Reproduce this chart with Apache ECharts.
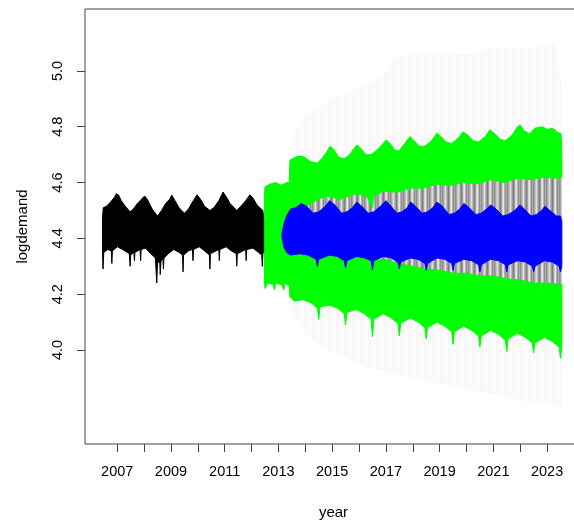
<!DOCTYPE html>
<html>
<head>
<meta charset="utf-8">
<script src="https://cdn.jsdelivr.net/npm/echarts@6/dist/echarts.min.js"></script>
<style>
html,body{margin:0;padding:0;background:#fff;}
#chart{width:574px;height:521px;}
</style>
</head>
<body>
<div id="chart"></div>
<script>
// ---- tick labels ----
const xTicks = [2007,2008,2009,2010,2011,2012,2013,2014,2015,2016,2017,2018,2019,2020,2021,2022,2023];
const xLabels = [2007,2009,2011,2013,2015,2017,2019,2021,2023];
const yTicks = [4.0,4.2,4.4,4.6,4.8,5.0];

// ---- observed series envelope (year, logdemand) ----
const blackUpper = [[2006.45,4.47],[2006.48,4.51],[2006.6,4.515],[2006.75,4.53],[2006.88,4.545],[2006.97,4.56],[2007.05,4.555],[2007.15,4.535],[2007.3,4.515],[2007.48,4.495],[2007.6,4.505],[2007.75,4.525],[2007.9,4.54],[2008.02,4.552],[2008.12,4.54],[2008.3,4.505],[2008.5,4.48],[2008.65,4.5],[2008.8,4.525],[2008.95,4.54],[2009.03,4.555],[2009.15,4.535],[2009.3,4.51],[2009.5,4.49],[2009.65,4.505],[2009.8,4.53],[2009.97,4.556],[2010.1,4.54],[2010.25,4.515],[2010.45,4.5],[2010.6,4.51],[2010.78,4.535],[2010.94,4.566],[2011.05,4.55],[2011.2,4.525],[2011.45,4.5],[2011.6,4.515],[2011.78,4.535],[2011.94,4.556],[2012.05,4.545],[2012.2,4.52],[2012.42,4.5],[2012.45,4.47]];
const blackLower = [[2006.45,4.36],[2006.47,4.29],[2006.5,4.35],[2006.65,4.36],[2006.78,4.355],[2006.8,4.31],[2006.82,4.355],[2007.0,4.37],[2007.2,4.36],[2007.45,4.345],[2007.48,4.3],[2007.5,4.34],[2007.62,4.35],[2007.64,4.32],[2007.66,4.35],[2007.85,4.36],[2007.87,4.32],[2007.89,4.36],[2008.05,4.365],[2008.25,4.345],[2008.42,4.33],[2008.47,4.24],[2008.5,4.31],[2008.58,4.32],[2008.6,4.27],[2008.63,4.32],[2008.7,4.325],[2008.72,4.29],[2008.74,4.33],[2008.9,4.345],[2009.1,4.36],[2009.3,4.35],[2009.43,4.34],[2009.45,4.28],[2009.47,4.34],[2009.65,4.355],[2009.8,4.36],[2009.82,4.32],[2009.84,4.36],[2010.05,4.37],[2010.25,4.355],[2010.43,4.34],[2010.45,4.29],[2010.47,4.345],[2010.78,4.36],[2010.8,4.32],[2010.82,4.36],[2011.05,4.37],[2011.25,4.355],[2011.43,4.345],[2011.45,4.3],[2011.47,4.345],[2011.78,4.36],[2011.8,4.32],[2011.82,4.36],[2012.05,4.365],[2012.25,4.35],[2012.38,4.34],[2012.4,4.3],[2012.42,4.345],[2012.45,4.35]];

// ---- forecast: upper 95% bound envelope ----
const greenUpperTop = [[2012.48,4.55],[2012.5,4.585],[2012.7,4.595],[2012.9,4.6],[2013.1,4.59],[2013.3,4.6],[2013.4,4.6],[2013.43,4.68],[2013.6,4.69],[2013.8,4.695],[2014.0,4.69],[2014.2,4.675],[2014.45,4.67],[2014.65,4.69],[2014.8,4.71],[2014.92,4.73],[2015.05,4.72],[2015.25,4.69],[2015.45,4.685],[2015.65,4.7],[2015.8,4.72],[2015.92,4.735],[2016.05,4.725],[2016.25,4.7],[2016.45,4.7],[2016.65,4.715],[2016.85,4.735],[2017.02,4.753],[2017.15,4.74],[2017.35,4.715],[2017.5,4.715],[2017.7,4.74],[2017.9,4.765],[2018.05,4.75],[2018.25,4.73],[2018.45,4.73],[2018.7,4.75],[2018.9,4.777],[2019.05,4.765],[2019.25,4.745],[2019.45,4.74],[2019.7,4.76],[2019.87,4.782],[2020.05,4.77],[2020.25,4.75],[2020.45,4.745],[2020.7,4.765],[2020.87,4.789],[2021.05,4.775],[2021.25,4.755],[2021.45,4.75],[2021.7,4.77],[2021.9,4.8],[2022.0,4.806],[2022.15,4.785],[2022.35,4.775],[2022.55,4.795],[2022.84,4.8],[2023.0,4.79],[2023.2,4.795],[2023.4,4.78],[2023.52,4.775],[2023.55,4.7]];
const greenUpperBottom = [[2012.48,4.4],[2013.4,4.4],[2013.43,4.5],[2014.0,4.51],[2014.3,4.53],[2014.6,4.545],[2014.9,4.55],[2015.3,4.54],[2015.6,4.55],[2015.9,4.56],[2016.3,4.55],[2016.5,4.51],[2016.55,4.55],[2016.9,4.57],[2017.4,4.565],[2017.9,4.58],[2018.4,4.58],[2018.9,4.595],[2019.4,4.59],[2019.9,4.6],[2020.4,4.595],[2020.9,4.61],[2021.4,4.6],[2021.9,4.615],[2022.4,4.61],[2022.9,4.62],[2023.3,4.615],[2023.55,4.62]];

// ---- forecast: lower 95% bound envelope ----
const greenLowerTop = [[2012.48,4.45],[2013.4,4.45],[2013.43,4.36],[2013.9,4.355],[2014.5,4.34],[2014.95,4.345],[2015.5,4.33],[2015.95,4.335],[2016.4,4.32],[2016.95,4.325],[2017.4,4.31],[2018.0,4.3],[2018.5,4.29],[2019.0,4.285],[2019.5,4.275],[2020.0,4.275],[2020.5,4.265],[2021.0,4.265],[2021.5,4.255],[2022.0,4.25],[2022.5,4.24],[2023.0,4.24],[2023.55,4.235]];
const greenLowerBottom = [[2012.48,4.25],[2012.5,4.22],[2012.6,4.24],[2012.8,4.235],[2012.85,4.215],[2012.9,4.24],[2013.1,4.235],[2013.2,4.215],[2013.25,4.24],[2013.4,4.23],[2013.43,4.19],[2013.6,4.175],[2013.9,4.18],[2014.2,4.17],[2014.45,4.15],[2014.5,4.11],[2014.55,4.155],[2014.9,4.16],[2015.2,4.15],[2015.45,4.13],[2015.5,4.09],[2015.55,4.135],[2015.9,4.145],[2016.2,4.13],[2016.45,4.11],[2016.5,4.047],[2016.55,4.11],[2016.9,4.13],[2017.2,4.115],[2017.45,4.095],[2017.5,4.05],[2017.55,4.095],[2017.9,4.115],[2018.2,4.1],[2018.45,4.08],[2018.5,4.04],[2018.55,4.08],[2018.9,4.1],[2019.2,4.085],[2019.45,4.065],[2019.5,4.02],[2019.55,4.065],[2019.9,4.085],[2020.2,4.07],[2020.45,4.05],[2020.5,4.01],[2020.55,4.05],[2020.9,4.07],[2021.2,4.055],[2021.45,4.035],[2021.5,3.995],[2021.55,4.04],[2021.9,4.06],[2022.2,4.045],[2022.45,4.025],[2022.5,3.99],[2022.55,4.025],[2022.9,4.045],[2023.2,4.03],[2023.45,4.01],[2023.5,3.97],[2023.55,4.01]];

// ---- forecast: point forecast envelope ----
const blueTop = [[2013.13,4.415],[2013.2,4.45],[2013.3,4.48],[2013.45,4.505],[2013.65,4.51],[2013.85,4.525],[2014.05,4.515],[2014.3,4.49],[2014.5,4.495],[2014.75,4.515],[2014.9,4.535],[2015.1,4.52],[2015.35,4.49],[2015.55,4.495],[2015.75,4.51],[2015.92,4.53],[2016.1,4.515],[2016.35,4.49],[2016.55,4.495],[2016.8,4.515],[2017.0,4.535],[2017.15,4.52],[2017.4,4.49],[2017.6,4.495],[2017.8,4.51],[2017.92,4.53],[2018.1,4.515],[2018.35,4.49],[2018.55,4.495],[2018.75,4.51],[2018.9,4.53],[2019.1,4.515],[2019.35,4.485],[2019.55,4.49],[2019.75,4.505],[2019.9,4.525],[2020.1,4.51],[2020.35,4.485],[2020.55,4.49],[2020.75,4.505],[2020.9,4.52],[2021.1,4.505],[2021.35,4.48],[2021.55,4.485],[2021.8,4.5],[2022.0,4.52],[2022.15,4.505],[2022.4,4.48],[2022.6,4.485],[2022.8,4.5],[2022.92,4.515],[2023.1,4.5],[2023.35,4.48],[2023.5,4.48],[2023.55,4.46]];
const blueBottom = [[2013.13,4.405],[2013.2,4.37],[2013.3,4.35],[2013.45,4.34],[2013.8,4.345],[2014.1,4.34],[2014.4,4.325],[2014.45,4.3],[2014.5,4.325],[2014.9,4.34],[2015.2,4.335],[2015.45,4.32],[2015.5,4.295],[2015.55,4.32],[2015.9,4.335],[2016.2,4.33],[2016.45,4.32],[2016.5,4.287],[2016.55,4.32],[2016.9,4.335],[2017.2,4.33],[2017.45,4.315],[2017.5,4.29],[2017.55,4.315],[2017.9,4.33],[2018.2,4.325],[2018.45,4.31],[2018.5,4.285],[2018.55,4.31],[2018.9,4.33],[2019.2,4.325],[2019.45,4.31],[2019.5,4.285],[2019.55,4.31],[2019.9,4.325],[2020.2,4.32],[2020.45,4.305],[2020.5,4.28],[2020.55,4.305],[2020.9,4.325],[2021.2,4.32],[2021.45,4.305],[2021.5,4.28],[2021.55,4.305],[2021.9,4.32],[2022.2,4.315],[2022.45,4.3],[2022.5,4.28],[2022.55,4.3],[2022.9,4.32],[2023.2,4.315],[2023.45,4.3],[2023.5,4.28],[2023.55,4.3]];

// ---- forecast fan (inner grey and faint outer) ----
const fanTop = [[2013.43,4.52],[2018.0,4.61],[2023.55,4.65]];
const fanBottom = [[2013.43,4.33],[2018.0,4.27],[2023.55,4.2]];
const faintTop = [[2013.43,4.7],[2013.6,4.78],[2014.0,4.84],[2014.5,4.87],[2015.0,4.9],[2015.5,4.92],[2016.0,4.94],[2016.5,4.96],[2017.0,5.0],[2017.3,5.05],[2018.0,5.06],[2019.0,5.07],[2020.0,5.06],[2021.0,5.08],[2022.0,5.08],[2023.3,5.09],[2023.55,4.95]];
const faintBottom = [[2013.43,4.15],[2014.0,4.06],[2014.5,4.02],[2015.0,3.99],[2016.0,3.95],[2017.0,3.92],[2018.0,3.9],[2019.0,3.88],[2020.0,3.86],[2021.0,3.84],[2022.0,3.82],[2023.55,3.8]];

function stripePattern(cols) {
  const c = document.createElement('canvas');
  c.width = cols.length; c.height = 1;
  const g = c.getContext('2d');
  cols.forEach((col, i) => { g.fillStyle = col; g.fillRect(i, 0, 1, 1); });
  return { image: c, repeat: 'repeat' };
}
const greyFill = stripePattern(['#8e8e8e','#a6a6a6','#c4c4c4','#dedede','#bababa','#9a9a9a','#7e7e7e','#a0a0a0','#d2d2d2','#e8e8e8','#b4b4b4','#909090','#aaaaaa']);
const faintFill = stripePattern(['#f6f6f6','#fcfcfc','#f3f3f3','#fefefe','#f8f8f8','#ffffff','#f5f5f5','#fdfdfd']);

function band(name, upper, lower, fill, stroke, z) {
  return {
    type: 'custom', name: name, z: z, silent: true,
    coordinateSystem: 'cartesian2d',
    data: [[upper[0][0], upper[0][1]]],
    encode: { x: 0, y: 1 },
    clip: true,
    renderItem: function (params, api) {
      const pts = upper.map(p => api.coord(p)).concat(lower.slice().reverse().map(p => api.coord(p)));
      return {
        type: 'polygon',
        shape: { points: pts },
        style: stroke ? { fill: fill, stroke: stroke, lineWidth: 1 } : { fill: fill }
      };
    }
  };
}

const chart = echarts.init(document.getElementById('chart'), null, { renderer: 'canvas' });
const font = 'Liberation Sans, Arial, sans-serif';
chart.setOption({
  animation: false,
  backgroundColor: '#fff',
  grid: {
    left: 85, top: 9, width: 497, height: 435,
    show: true, borderColor: '#444', borderWidth: 1, backgroundColor: 'transparent',
    containLabel: false, outerBoundsMode: 'none'
  },
  xAxis: {
    type: 'value', min: 2005.8, max: 2024.3,
    name: 'year', nameLocation: 'middle', nameGap: 61,
    nameTextStyle: { fontFamily: font, fontSize: 15, color: '#000' },
    axisLine: { show: false },
    splitLine: { show: false },
    axisTick: { show: true, length: 8, lineStyle: { color: '#444' }, customValues: xTicks },
    axisLabel: { customValues: xLabels, margin: 20, fontFamily: font, fontSize: 14.5, color: '#000', formatter: v => String(v) }
  },
  yAxis: {
    type: 'value', min: 3.663, max: 5.222,
    name: 'logdemand', nameLocation: 'middle', nameGap: 55, nameRotate: 90,
    nameTextStyle: { fontFamily: font, fontSize: 15, color: '#000' },
    axisLine: { show: false },
    splitLine: { show: false },
    axisTick: { show: true, length: 8, lineStyle: { color: '#444' }, customValues: yTicks },
    axisLabel: { customValues: yTicks, rotate: 90, margin: 20, fontFamily: font, fontSize: 14.5, color: '#000', formatter: v => v.toFixed(1) }
  },
  series: [
    band('faint', faintTop, faintBottom, faintFill, null, 1),
    band('fan', fanTop, fanBottom, greyFill, null, 2),
    band('upper', greenUpperTop, greenUpperBottom, '#00ff00', '#00ff00', 3),
    band('lower', greenLowerTop, greenLowerBottom, '#00ff00', '#00ff00', 3),
    band('mean', blueTop, blueBottom, '#0000ff', '#0000ff', 4),
    band('observed', blackUpper, blackLower, '#000000', '#000000', 5)
  ]
});
</script>
</body>
</html>
